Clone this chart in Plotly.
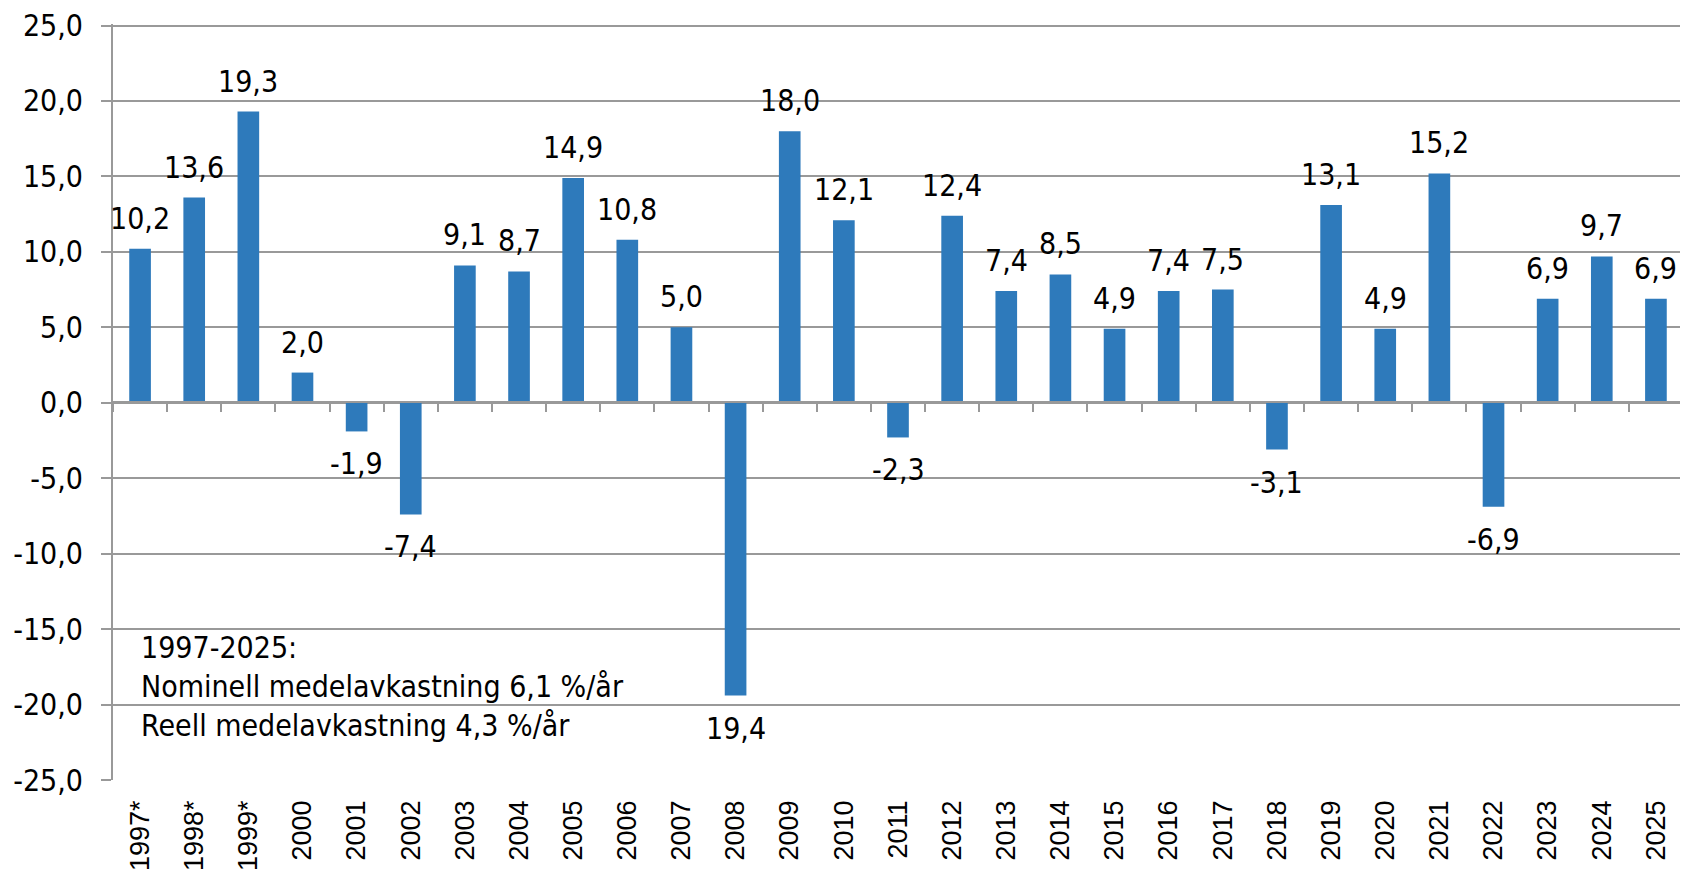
import plotly.graph_objects as go

years = ["1997*", "1998*", "1999*", "2000", "2001", "2002", "2003", "2004", "2005",
         "2006", "2007", "2008", "2009", "2010", "2011", "2012", "2013", "2014",
         "2015", "2016", "2017", "2018", "2019", "2020", "2021", "2022", "2023",
         "2024", "2025"]
returns = [10.2, 13.6, 19.3, 2.0, -1.9, -7.4, 9.1, 8.7, 14.9, 10.8, 5.0, -19.4,
           18.0, 12.1, -2.3, 12.4, 7.4, 8.5, 4.9, 7.4, 7.5, -3.1, 13.1, 4.9,
           15.2, -6.9, 6.9, 9.7, 6.9]
# labels as printed in the chart (the 2008 label lacks its minus sign)
labels = [f"{v:.1f}".replace(".", ",") for v in returns]
labels[years.index("2008")] = "19,4"

y_ticks = [-25, -20, -15, -10, -5, 0, 5, 10, 15, 20, 25]
y_ticktext = [f"{v:.1f}".replace(".", ",") for v in y_ticks]

note_lines = ["1997-2025:", "Nominell medelavkastning 6,1 %/år",
              "Reell medelavkastning 4,3 %/år"]

FONT = "DejaVu Sans Condensed, DejaVu Sans, sans-serif"
GRID = "#999999"
BAR = "#2E7ABB"

pos = list(range(len(years)))

fig = go.Figure()
fig.add_trace(go.Bar(x=pos, y=returns, width=0.4, marker=dict(color=BAR, line=dict(width=0)),
                     hovertext=years, hoverinfo="text+y", showlegend=False))
# helper trace for the zero-line axis with boundary ticks
fig.add_trace(go.Scatter(x=[-0.5, len(years) - 0.5], y=[0, 0], xaxis="x2", mode="lines",
                         line=dict(width=0), opacity=0, hoverinfo="skip", showlegend=False))

for x, v, t in zip(pos, returns, labels):
    fig.add_annotation(x=x, y=v, text=t, showarrow=False,
                       yanchor="bottom" if v >= 0 else "top",
                       yshift=11 if v >= 0 else -13,
                       font=dict(family=FONT, size=30, color="black"))

fig.add_shape(type="rect", xref="paper", yref="y", x0=0.002, x1=(715 - 113) / 1570,
              y0=-23.5, y1=-12, fillcolor="white", line=dict(width=0), layer="between")

fig.add_annotation(xref="paper", yref="y", x=(139 - 113) / 1570, y=-14.9,
                   xanchor="left", yanchor="top", align="left", showarrow=False,
                   text="<br>".join(note_lines),
                   font=dict(family=FONT, size=30, color="black"))

xr = [-0.5, len(years) - 0.5]
fig.update_layout(
    width=1680, height=867,
    margin=dict(l=105, r=5, t=16, b=95, autoexpand=False),
    paper_bgcolor="white", plot_bgcolor="white",
    xaxis=dict(range=xr, showgrid=False, showline=False, ticks="", zeroline=False,
               tickmode="array", tickvals=pos, ticktext=years, automargin=False,
               tickangle=-90, ticklabelstandoff=14,
               tickfont=dict(family="Liberation Sans, Arial, sans-serif", size=27, color="black")),
    xaxis2=dict(overlaying="x", anchor="free", position=0.5, range=xr,
                showgrid=False, showline=True, linecolor=GRID, linewidth=2,
                ticks="outside", ticklen=9, tickwidth=2, tickcolor=GRID,
                tickmode="array", tickvals=[i - 0.5 for i in range(len(years) + 1)],
                showticklabels=False, zeroline=False),
    yaxis=dict(range=[-25, 25.1], tickmode="array", tickvals=y_ticks, ticktext=y_ticktext,
               showgrid=True, gridcolor=GRID, gridwidth=2, automargin=False,
               showline=True, linecolor=GRID, linewidth=2,
               ticks="outside", ticklen=10, tickwidth=2, tickcolor=GRID,
               ticklabelstandoff=12, zeroline=False, ticklabeloverflow="allow",
               tickfont=dict(family=FONT, size=30, color="black")),
)

fig.write_html("out.html")
